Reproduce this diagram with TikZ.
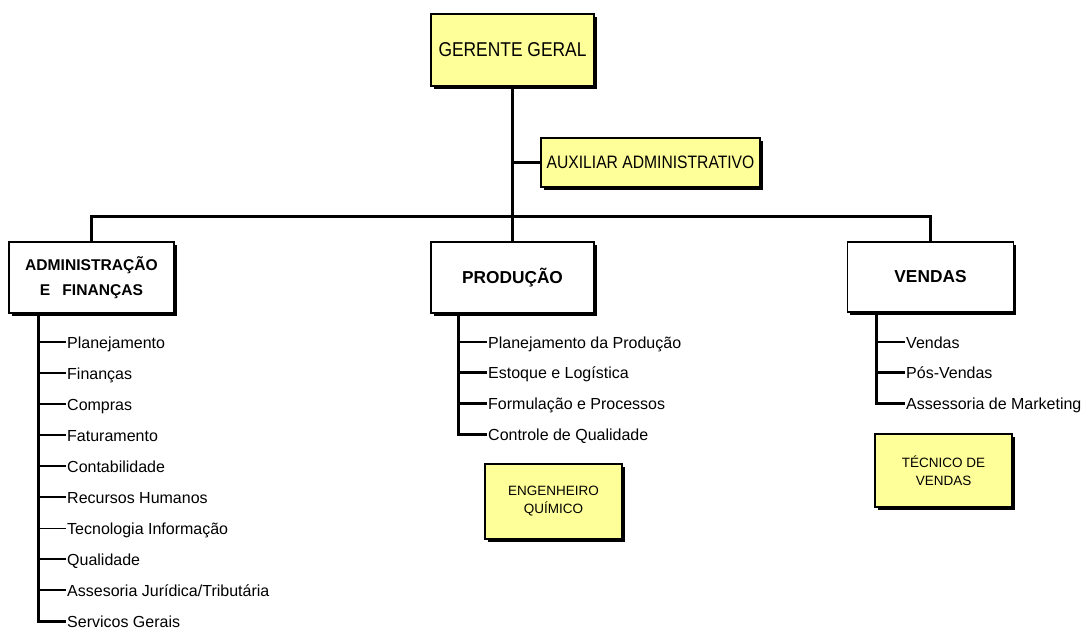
\documentclass[tikz,border=0pt]{standalone}
\usepackage{fontspec}
\setmainfont{Liberation Sans}
\newfontfamily\estreita[FakeStretch=0.87]{Liberation Sans}
\usetikzlibrary{shadows}
\definecolor{amarelo}{RGB}{255,255,153}

\begin{document}
\begin{tikzpicture}[x=1pt,y=-1pt,
	caixa/.style={draw,line width=1.5pt,align=center,inner sep=0pt,drop shadow={shadow xshift=2.5pt,shadow yshift=-2.5pt,opacity=1,fill=black}},
	chefe/.style={caixa,fill=amarelo},
	setor/.style={caixa,fill=white,font=\bfseries\fontsize{17.3}{22}\selectfont},
	item/.style={anchor=west,inner sep=1pt,text height=15pt,text depth=3pt,font=\fontsize{16}{18}\selectfont},
	liga/.style={line width=3pt},
	ramo/.style={line width=2.7pt}]
				\useasboundingbox (0,0) rectangle (1082,630);
				\node [chefe,minimum width=163pt,minimum height=72pt,font=\estreita\fontsize{20}{24}\selectfont] (gg) at (512.5,50) {GERENTE GERAL};
				\node [chefe,minimum width=219pt,minimum height=49pt,font=\estreita\fontsize{18}{22}\selectfont] (aux) at (650.5,162.5) {AUXILIAR ADMINISTRATIVO};
				\node [setor,minimum width=165pt,minimum height=71pt,font=\bfseries\fontsize{15.6}{25}\selectfont] (adm) at (91.5,277.5) {ADMINISTRAÇÃO\\E\hspace{12pt}FINANÇAS};
				\node [setor,minimum width=163pt,minimum height=71pt] (pro) at (512.5,277.5) {PRODUÇÃO};
				\node [setor,minimum width=166pt,minimum height=70pt] (ven) at (930.5,277) {VENDAS};
				\node [chefe,minimum width=137pt,minimum height=75pt,font=\fontsize{13.5}{18}\selectfont] (eng) at (553.5,501.5) {ENGENHEIRO\\QUÍMICO};
				\node [chefe,minimum width=137pt,minimum height=73pt,font=\fontsize{13.5}{18}\selectfont] (tec) at (943.5,470.5) {TÉCNICO DE\\VENDAS};
				\coordinate (bus) at (512.5,216);
				\draw [liga] (gg.south) -- (pro.north);
				\draw [liga] (gg.south |- aux.west) -- (aux.west);
				\draw [liga] (adm.north) |- (bus) -| (ven.north);
				\coordinate (av) at (38,0);
				\coordinate (pv) at (458,0);
				\coordinate (vv) at (876,0);
				\foreach \t/\w [count=\i from 0] in {Planejamento/2.7,Finanças/2.7,Compras/2.7,Faturamento/2.7,Contabilidade/2.7,Recursos Humanos/2.7,Tecnologia Informação/1,Qualidade/2.7,{Assesoria Jurídica/Tributária}/2.7,Servicos Gerais/2.7}
				{
					\node [item] (a\i) at (66,342 + 31*\i) {\t};
					\draw [line width=\w pt] (a\i.west -| av) -- (a\i.west);
				}
				\draw [ramo,line width=3pt] (adm.south -| av) |- (a9.west);
				\foreach \t [count=\i from 0] in {Planejamento da Produção,Estoque e Logística,Formulação e Processos,Controle de Qualidade}
				{
					\node [item] (p\i) at (487,342 + 30.7*\i) {\t};
					\draw [ramo] (p\i.west -| pv) -- (p\i.west);
				}
				\draw [ramo,line width=3pt] (pro.south -| pv) |- (p3.west);
				\foreach \t [count=\i from 0] in {Vendas,Pós-Vendas,Assessoria de Marketing}
				{
					\node [item] (v\i) at (905,342 + 30.7*\i) {\t};
					\draw [ramo] (v\i.west -| vv) -- (v\i.west);
				}
				\draw [ramo,line width=3pt] (ven.south -| vv) |- (v2.west);
			\end{tikzpicture}
\end{document}
